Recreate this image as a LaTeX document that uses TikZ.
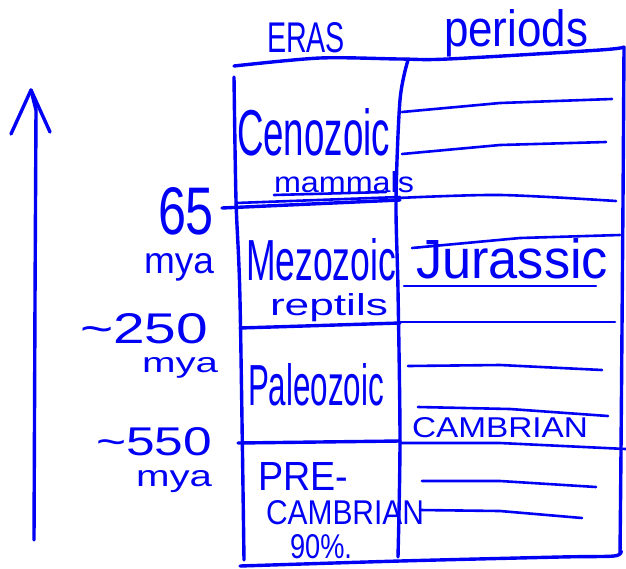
\documentclass[tikz,border=0pt]{standalone}
\usepackage{fontspec}
\setmainfont{Liberation Sans}
\usepackage{graphicx}
\definecolor{ink}{RGB}{0,0,245}
\tikzset{
  pen/.style={draw=ink,line width=3.4pt,line cap=round,line join=round},
  thinpen/.style={draw=ink,line width=2.6pt,line cap=round,line join=round},
  word/.style={anchor=base west,inner sep=0pt,outer sep=0pt,text=ink}
}
\newcommand{\hw}[3]{\resizebox{#1pt}{#2pt}{#3}}
\begin{document}
\begin{tikzpicture}[x=1pt,y=-1pt]
\useasboundingbox (0,0) rectangle (626,568);
% headings
\node[word] (eras) at (267,52) {\hw{78}{30}{ERAS}};
\node[word] (periods) at (444,46) {\hw{144}{37}{periods}};
% time arrow
\coordinate (abot) at (34,540);
\coordinate (atop) at (31,90);
\coordinate (aleft) at (11,134);
\coordinate (aright) at (50,132);
\draw[pen] (abot) -- (35,300) -- (36,110) -- (atop);
\draw[pen] (aleft) -- (atop) -- (aright);
% table frame
\draw[pen] plot[smooth] coordinates {(234,66) (320,58) (400,59) (448,59) (600,50) (624,47)};
\draw[pen] plot[smooth] coordinates {(234,77) (236,200) (240,300) (244,560)};
\draw[pen] plot[smooth] coordinates {(408,60) (400,100) (396,200) (398,290) (400,440) (398,557)};
\draw[pen] plot[smooth] coordinates {(624,47) (623,200) (621,450) (620,553)};
\draw[pen] plot[smooth] coordinates {(240,566) (400,561) (560,557) (614,556) (621,551)};
% era dividers
\draw[pen] (222,208) -- (400,200);
\draw[thinpen] (236,203) -- (400,197);
\draw[thinpen] (274,195) -- (386,192);
\draw[pen] (240,328) -- (400,323);
\draw[pen] (238,443) -- (400,441);
% period lines
\draw[thinpen] (402,112) -- (500,103) -- (612,99);
\draw[thinpen] (402,154) -- (500,145) -- (606,142);
\draw[thinpen] plot[smooth] coordinates {(398,198) (500,195) (616,201)};
\draw[thinpen] (412,248) -- (520,238) -- (620,235);
\draw[thinpen] (404,286) -- (596,286);
\draw[thinpen] (400,322) -- (615,322);
\draw[thinpen] (408,366) -- (500,365) -- (602,370);
\draw[thinpen] (418,407) -- (510,409) -- (608,416);
\draw[thinpen] (400,443) -- (500,443) -- (626,449);
\draw[thinpen] (422,481) -- (500,481) -- (596,487);
\draw[thinpen] (420,510) -- (500,511) -- (582,518);
% era names
\node[word] (ceno) at (237,155) {\hw{153}{47}{Cenozoic}};
\node[word] (mamm) at (274,192) {\hw{140}{21}{mammals}};
\node[word] (meso) at (246,280) {\hw{150}{42}{Mezozoic}};
\node[word] (rept) at (270,315) {\hw{118}{22}{reptils}};
\node[word] (paleo) at (248,405) {\hw{136}{42}{Paleozoic}};
\node[word] (pre) at (258,490) {\hw{90}{28}{PRE-}};
\node[word] (precam) at (266,524) {\hw{158}{24}{CAMBRIAN}};
\node[word] (pct) at (290,558) {\hw{62}{24}{90\%.}};
% period names
\node[word] (jur) at (416,278) {\hw{192}{40}{Jurassic}};
\node[word] (cam) at (412,437) {\hw{176}{20}{CAMBRIAN}};
% dates
\node[word] (d65) at (158,234) {\hw{56}{47}{65}};
\node[word] (m1) at (144,273) {\hw{70}{20}{mya}};
\node[word] (d250) at (80,343) {\hw{128}{30}{\textasciitilde 250}};
\node[word] (m2) at (142,372) {\hw{76}{15}{mya}};
\node[word] (d550) at (96,455) {\hw{116}{28}{\textasciitilde 550}};
\node[word] (m3) at (136,486) {\hw{76}{16}{mya}};
\end{tikzpicture}
\end{document}
